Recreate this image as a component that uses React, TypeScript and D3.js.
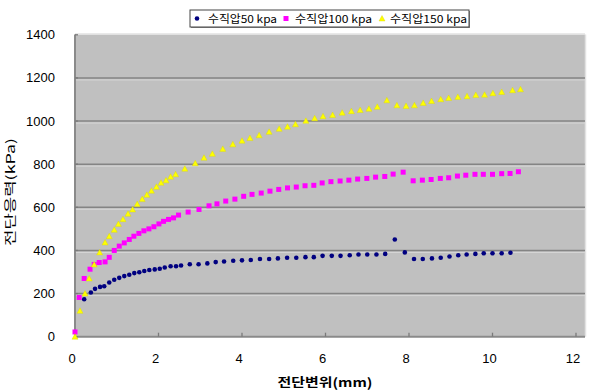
import React from "react";
import * as d3 from "d3";

const s50X = [0.22, 0.38, 0.48, 0.6, 0.7, 0.82, 0.94, 1.06, 1.18, 1.3, 1.42, 1.54, 1.66, 1.78, 1.91, 2.03, 2.15, 2.29, 2.42, 2.54, 2.75, 2.96, 3.17, 3.37, 3.57, 3.79, 4.0, 4.21, 4.43, 4.65, 4.86, 5.08, 5.3, 5.52, 5.72, 5.93, 6.15, 6.36, 6.58, 6.79, 7.0, 7.22, 7.43, 7.66, 7.9, 8.12, 8.33, 8.55, 8.76, 8.97, 9.18, 9.38, 9.59, 9.79, 10.0, 10.22, 10.43];
const s50Y = [174, 205, 222, 231, 234, 251, 264, 273, 281, 287, 295, 299, 305, 309, 312, 315, 321, 327, 327, 330, 336, 336, 340, 346, 349, 352, 354, 356, 360, 360, 363, 366, 366, 369, 369, 375, 375, 375, 378, 381, 381, 381, 384, 451, 391, 360, 360, 363, 366, 372, 378, 381, 384, 387, 387, 387, 389];

const s100X = [0, 0.1, 0.22, 0.36, 0.46, 0.58, 0.72, 0.82, 0.94, 1.06, 1.18, 1.3, 1.41, 1.53, 1.65, 1.77, 1.89, 2.01, 2.12, 2.24, 2.36, 2.48, 2.71, 2.97, 3.21, 3.4, 3.61, 3.83, 4.04, 4.24, 4.46, 4.67, 4.88, 5.09, 5.3, 5.51, 5.72, 5.92, 6.13, 6.35, 6.56, 6.77, 6.99, 7.2, 7.42, 7.62, 7.86, 8.1, 8.32, 8.53, 8.75, 8.95, 9.16, 9.36, 9.58, 9.78, 10.0, 10.22, 10.42, 10.62];
const s100Y = [22, 182, 270, 313, 335, 344, 347, 368, 400, 420, 435, 451, 466, 479, 491, 500, 510, 523, 535, 544, 551, 564, 578, 590, 607, 616, 629, 638, 651, 660, 666, 675, 683, 690, 694, 700, 702, 713, 719, 722, 726, 731, 734, 740, 743, 754, 763, 723, 726, 729, 734, 737, 745, 749, 753, 753, 753, 756, 757, 765];

const s150X = [0, 0.12, 0.24, 0.34, 0.46, 0.59, 0.72, 0.82, 0.94, 1.04, 1.15, 1.27, 1.38, 1.49, 1.61, 1.72, 1.83, 1.95, 2.06, 2.18, 2.29, 2.41, 2.63, 2.88, 3.09, 3.29, 3.54, 3.78, 4.0, 4.19, 4.41, 4.65, 4.89, 5.09, 5.28, 5.53, 5.74, 5.94, 6.17, 6.4, 6.62, 6.83, 7.04, 7.24, 7.47, 7.71, 7.93, 8.13, 8.34, 8.54, 8.76, 8.95, 9.17, 9.39, 9.6, 9.81, 10.01, 10.22, 10.48, 10.67];
const s150Y = [0, 120, 200, 270, 335, 391, 437, 466, 496, 523, 545, 570, 590, 615, 638, 658, 677, 695, 714, 725, 742, 753, 779, 804, 830, 848, 871, 892, 909, 921, 934, 950, 964, 974, 985, 1001, 1013, 1022, 1028, 1039, 1046, 1051, 1057, 1066, 1096, 1073, 1070, 1073, 1084, 1093, 1101, 1107, 1112, 1115, 1121, 1122, 1129, 1135, 1143, 1147];

const xTicks = [0, 2, 4, 6, 8, 10, 12];
const yTicks = [0, 200, 400, 600, 800, 1000, 1200, 1400];
const legendLabels = ["수직압50 kpa", "수직압100 kpa", "수직압150 kpa"];
const xTitle = "전단변위(mm)";
const yTitle = "전단응력(kPa)";

const W = 591;
const H = 390;
const plotL = 75;
const plotR = 585;
const plotT = 34.5;
const plotB = 336.7;

const x = d3.scaleLinear().domain([0, 12]).range([75, 576]);
const y = d3.scaleLinear().domain([0, 1400]).range([plotB, 34.8]);

const NAVY = "#000080";
const MAG = "#ff00ff";
const YEL = "#ffff00";

function Dot({ cx, cy }: { cx: number; cy: number }) {
  return <circle cx={cx} cy={cy} r={2.3} fill={NAVY} />;
}
function Sq({ cx, cy }: { cx: number; cy: number }) {
  return <rect x={cx - 2.5} y={cy - 2.5} width={5} height={5} fill={MAG} />;
}
function Tri({ cx, cy }: { cx: number; cy: number }) {
  return <path d={`M${cx},${cy - 3} L${cx + 3},${cy + 2.5} L${cx - 3},${cy + 2.5} Z`} fill={YEL} stroke="#d8d800" strokeWidth={0.4} />;
}

export default function App() {
  const font = "'Liberation Sans', Arial, sans-serif";
  const kfont = "'Noto Sans CJK KR', 'Liberation Sans', sans-serif";
  return (
    <svg width={W} height={H} style={{ position: "absolute", left: 0, top: 0, background: "#fff" }} xmlns="http://www.w3.org/2000/svg">
      <rect x={0} y={0} width={W} height={H} fill="#fff" />
      {/* plot area */}
      <rect x={plotL} y={plotT} width={plotR - plotL} height={plotB - plotT} fill="#c0c0c0" />
      <line x1={plotL} x2={plotR} y1={plotT - 0.5} y2={plotT - 0.5} stroke="#e2e2e2" strokeWidth={1.5} />
      <line x1={plotR + 0.5} x2={plotR + 0.5} y1={plotT} y2={plotB} stroke="#e2e2e2" strokeWidth={1.5} />
      {/* gridlines */}
      {yTicks.filter((t) => t > 0 && t < 1400).map((t) => (
        <g key={t}>
          <line x1={plotL} x2={plotR} y1={y(t)} y2={y(t)} stroke="#848484" strokeWidth={1.6} />
          <line x1={plotL} x2={plotR} y1={y(t) + 2} y2={y(t) + 2} stroke="#d6d6d6" strokeWidth={1} />
        </g>
      ))}
      {/* axes */}
      <line x1={plotL} x2={plotL} y1={plotT} y2={plotB} stroke="#8a8a8a" strokeWidth={2} />
      <line x1={plotL} x2={plotR} y1={plotB} y2={plotB} stroke="#8a8a8a" strokeWidth={2} />
      {xTicks.map((t) => (
        <line key={t} x1={x(t)} x2={x(t)} y1={plotB} y2={plotB - 4} stroke="#7a7a7a" strokeWidth={1.3} />
      ))}
      {yTicks.map((t) => (
        <line key={t} x1={plotL} x2={plotL + 3} y1={y(t)} y2={y(t)} stroke="#7a7a7a" strokeWidth={1.3} />
      ))}
      {/* tick labels */}
      {yTicks.map((t) => (
        <text key={t} x={55} y={y(t) + 4.5} textAnchor="end" fontFamily={font} fontSize={13} fill="#000">
          {t}
        </text>
      ))}
      {xTicks.map((t) => (
        <text key={t} x={x(t) - 3} y={363} textAnchor="middle" fontFamily={font} fontSize={13} fill="#000">
          {t}
        </text>
      ))}
      {/* titles */}
      <text x={325} y={387} textAnchor="middle" fontFamily={kfont} fontSize={12.5} fontWeight="bold" textLength={95} lengthAdjust="spacingAndGlyphs">
        {xTitle}
      </text>
      <text transform="translate(15,192) rotate(-90)" textAnchor="middle" fontFamily={kfont} fontSize={12} textLength={108} lengthAdjust="spacingAndGlyphs">
        {yTitle}
      </text>
      {/* data */}
      <g>
        {s50X.map((v, i) => (
          <Dot key={"a" + i} cx={x(v)} cy={y(s50Y[i])} />
        ))}
        {s100X.map((v, i) => (
          <Sq key={"b" + i} cx={x(v)} cy={y(s100Y[i])} />
        ))}
        {s150X.map((v, i) => (
          <Tri key={"c" + i} cx={x(v)} cy={y(s150Y[i])} />
        ))}
      </g>
      {/* legend */}
      <rect x={191} y={11} width={279} height={17} fill="#888" />
      <rect x={190} y={10} width={279} height={17} fill="#fff" stroke="#444" strokeWidth={1} />
      <Dot cx={197} cy={18.5} />
      <text x={208} y={23} fontFamily={kfont} fontSize={11} textLength={69} lengthAdjust="spacingAndGlyphs">{legendLabels[0]}</text>
      <Sq cx={286} cy={18.5} />
      <text x={295} y={23} fontFamily={kfont} fontSize={11} textLength={77} lengthAdjust="spacingAndGlyphs">{legendLabels[1]}</text>
      <Tri cx={382} cy={18.5} />
      <text x={390} y={23} fontFamily={kfont} fontSize={11} textLength={77} lengthAdjust="spacingAndGlyphs">{legendLabels[2]}</text>
    </svg>
  );
}
